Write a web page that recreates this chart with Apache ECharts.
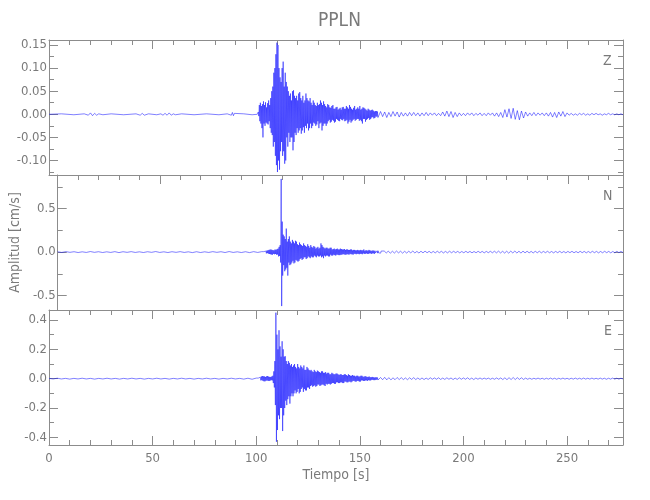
<!DOCTYPE html>
<html><head><meta charset="utf-8">
<script src="https://cdn.jsdelivr.net/npm/echarts@6/dist/echarts.min.js"></script>
<style>html,body{margin:0;padding:0;background:#fff}#c{width:650px;height:500px}</style>
</head><body><div id="c"></div>
<script>
// ---------- data ----------
const titleText = 'PPLN';
const xName = 'Tiempo [s]';
const yName = 'Amplitud [cm/s]';
const compNames = ['Z', 'N', 'E'];
const tMin = 0, tMax = 277;
const xMajor = [0, 50, 100, 150, 200, 250];
const xMinor = [10,20,30,40,60,70,80,90,110,120,130,140,160,170,180,190,210,220,230,240,260,270];

// axis ranges and ticks per component
const zRange = [-0.1314, 0.1608];
const zMajor = [-0.10, -0.05, 0, 0.05, 0.10, 0.15];
const zMinor = [-0.125, -0.075, -0.025, 0.025, 0.075, 0.125];
const nRange = [-0.665, 0.885];
const nMajor = [-0.5, 0, 0.5];
const nMinor = [-0.25, 0.25, 0.75];
const eRange = [-0.452, 0.468];
const eMajor = [-0.4, -0.2, 0, 0.2, 0.4];
const eMinor = [-0.3, -0.1, 0.1, 0.3];

// Z component
const zPreT = [0,6,12,17,19,20,21,22,23,24,26,30,36,42,44,45,46,48,52,54,55,56,57,58,59,60,61,64,70,76,82,86,88,88.5,89,89.5,90,94,98,100.5];
const zPreV = [0,0.001,-0.001,0.001,-0.002,0.003,-0.003,0.002,-0.002,0.001,-0.001,0.001,-0.001,0.001,-0.002,0.002,-0.002,0.001,-0.001,0.001,-0.002,0.002,-0.002,0.003,-0.002,0.001,-0.001,0.001,-0.001,0.001,-0.001,0.001,-0.002,0.004,-0.003,0.002,-0.001,0.001,-0.001,0];
const zMainStart = 101, zMainStep = 0.25;
const zMain = [
0.005,-0.004,0.02,-0.015, 0.025,-0.02,0.018,-0.03, 0.022,-0.05,0.028,-0.02, 0.02,-0.025,0.026,-0.018,
0.015,-0.02,0.024,-0.022, 0.03,-0.015,0.02,-0.03, 0.035,-0.04,0.05,-0.045, 0.06,-0.07,0.09,-0.06,
0.1,-0.09,0.13,-0.11, 0.155,-0.125,0.15,-0.1, 0.1,-0.12,0.08,-0.08, 0.07,-0.06,0.1,-0.09,
0.114,-0.08,0.06,-0.107, 0.09,-0.1,0.07,-0.05, 0.06,-0.07,0.05,-0.04, 0.04,-0.06,0.045,-0.05,
0.03,-0.05,0.05,-0.078, 0.052,-0.06,0.04,-0.04, 0.035,-0.045,0.04,-0.03, 0.03,-0.04,0.045,-0.035,
0.048,-0.03,0.035,-0.042, 0.03,-0.035,0.04,-0.028, 0.025,-0.04,0.03,-0.025, 0.045,-0.03,0.035,-0.02,
0.03,-0.035,0.028,-0.03, 0.035,-0.02,0.025,-0.03, 0.02,-0.025,0.03,-0.018, 0.025,-0.02,0.02,-0.025,
0.018,-0.022,0.025,-0.015, 0.02,-0.03,0.022,-0.02, 0.03,-0.018,0.025,-0.035, 0.02,-0.025,0.028,-0.02,
0.022,-0.02,0.018,-0.025, 0.015,-0.02,0.022,-0.015, 0.02,-0.012,0.015,-0.018, 0.014,-0.016,0.018,-0.012,
0.02,-0.014,0.012,-0.018, 0.012,-0.016,0.015,-0.01, 0.016,-0.012,0.01,-0.014, 0.012,-0.015,0.014,-0.01,
0.01,-0.012,0.015,-0.013, 0.016,-0.01,0.012,-0.015, 0.012,-0.014,0.018,-0.012, 0.015,-0.02,0.012,-0.016,
0.02,-0.012,0.016,-0.018, 0.012,-0.015,0.01,-0.012, 0.014,-0.01,0.018,-0.014, 0.01,-0.012,0.012,-0.01,
0.015,-0.01,0.012,-0.014, 0.018,-0.012,0.01,-0.015, 0.012,-0.02,0.015,-0.01, 0.014,-0.01,0.012,-0.016,
0.01,-0.012,0.008,-0.01, 0.012,-0.008,0.01,-0.012, 0.008,-0.01,0.009,-0.007, 0.01,-0.006,0.008,-0.009,
0.006,-0.008,0.007,-0.005, 0.007,-0.005,0.006,-0.007];
const zPostStart = 160, zPostStep = 1;
const zPost = [
0.006,-0.005,0.005,-0.007,0.004,-0.005,0.006,-0.004,0.005,-0.006,0.004,
-0.004,0.003,-0.004,0.004,-0.003,0.004,-0.003,0.003,-0.004,0.003,-0.003,0.004,-0.003,0.003,-0.002,0.003,-0.003,0.002,-0.003,
0.005,-0.004,0.007,-0.005,0.006,-0.007,0.004,-0.005,
0.003,-0.003,0.002,-0.003,0.003,-0.002,0.003,-0.003,0.002,-0.002,0.003,-0.003,0.002,-0.003,0.003,-0.002,0.003,-0.004,0.003,-0.005,0.004,
-0.007,0.01,-0.006,0.012,-0.009,0.013,-0.011,0.008,-0.012,0.007,-0.008,0.005,
-0.004,0.003,-0.003,0.004,-0.003,0.003,-0.002,0.003,-0.003,0.003,-0.004,0.004,
-0.006,0.004,-0.007,0.005,-0.004,0.006,-0.005,0.003,
-0.002,0.002,-0.002,0.001,-0.002,0.002,-0.001,0.002,-0.002,0.001,-0.002,0.002,-0.001,0.002,-0.001,0.001,-0.002,0.001,-0.001,0.002,-0.001,0.001,-0.001,0.001,-0.001,0.001,-0.001];

// N component
const nPreStart = 0, nPreStep = 2;
const nPre = [
0.003,-0.004,0.005,-0.003,0.004,-0.005,0.003,-0.004,0.006,-0.003,
0.004,-0.005,0.003,-0.004,0.005,-0.006,0.004,-0.003,0.005,-0.004,
0.003,-0.005,0.004,-0.003,0.006,-0.004,0.003,-0.005,0.004,-0.003,
0.005,-0.004,0.003,-0.006,0.004,-0.005,0.003,-0.004,0.005,-0.003,
0.004,-0.005,0.006,-0.004,0.003,-0.005,0.004,-0.006,0.005,-0.004,
0.005];
const nMainStart = 101, nMainStep = 0.25;
const nMain = [
0.005,-0.006,0.008,-0.005, 0.012,-0.015,0.018,-0.012, 0.02,-0.018,0.025,-0.022, 0.028,-0.025,0.03,-0.028,
0.025,-0.03,0.022,-0.02, 0.02,-0.025,0.03,-0.022, 0.025,-0.03,0.035,-0.028, 0.04,-0.05,0.06,-0.045,
0.08,-0.12,0.84,-0.62, 0.35,-0.27,0.2,-0.15, 0.18,-0.22,0.15,-0.2, 0.27,-0.18,0.12,-0.27,
0.15,-0.12,0.18,-0.15, 0.12,-0.14,0.1,-0.12, 0.14,-0.1,0.12,-0.13, 0.1,-0.12,0.13,-0.09,
0.12,-0.1,0.09,-0.11, 0.08,-0.1,0.11,-0.08, 0.09,-0.07,0.08,-0.09, 0.07,-0.08,0.1,-0.06,
0.08,-0.06,0.07,-0.08, 0.06,-0.07,0.09,-0.05, 0.07,-0.06,0.05,-0.07, 0.08,-0.05,0.06,-0.06,
0.05,-0.06,0.07,-0.04, 0.06,-0.05,0.04,-0.06, 0.05,-0.04,0.06,-0.05, 0.04,-0.05,0.05,-0.04,
0.1,-0.06,0.08,-0.05, 0.06,-0.07,0.05,-0.04, 0.04,-0.05,0.05,-0.04, 0.05,-0.04,0.04,-0.05,
0.04,-0.05,0.05,-0.03, 0.05,-0.04,0.03,-0.04, 0.035,-0.03,0.04,-0.035, 0.03,-0.04,0.035,-0.03,
0.04,-0.03,0.03,-0.035, 0.03,-0.035,0.04,-0.03, 0.035,-0.03,0.03,-0.025, 0.03,-0.025,0.035,-0.03,
0.025,-0.03,0.03,-0.025, 0.03,-0.025,0.025,-0.03, 0.025,-0.02,0.03,-0.025, 0.03,-0.025,0.02,-0.03,
0.025,-0.02,0.025,-0.02, 0.02,-0.025,0.02,-0.02, 0.025,-0.02,0.02,-0.025, 0.02,-0.02,0.025,-0.02,
0.02,-0.025,0.02,-0.015, 0.03,-0.02,0.015,-0.02, 0.02,-0.015,0.02,-0.02, 0.015,-0.02,0.025,-0.015,
0.02,-0.015,0.015,-0.02, 0.015,-0.015,0.02,-0.015, 0.015,-0.02,0.015,-0.01, 0.012,-0.015,0.015,-0.012,
0.015,-0.01,0.012,-0.015, 0.01,-0.012,0.012,-0.01];
const nPostStart = 160, nPostStep = 1;
const nPost = [
0.012,-0.01,0.011,-0.013,0.01,-0.011,0.012,-0.009,0.01,-0.012,
0.009,-0.011,0.01,-0.009,0.012,-0.01,0.008,-0.011,0.01,-0.009,
0.011,-0.008,0.009,-0.01,0.008,-0.009,0.01,-0.008,0.009,-0.01,
0.008,-0.009,0.01,-0.008,0.009,-0.007,0.008,-0.009,0.007,-0.008,
0.009,-0.007,0.008,-0.009,0.007,-0.008,0.009,-0.007,0.008,-0.009,
0.008,-0.007,0.009,-0.008,0.01,-0.009,0.011,-0.01,0.009,-0.011,
0.01,-0.012,0.011,-0.01,0.012,-0.011,0.01,-0.012,0.011,-0.009,
0.01,-0.009,0.008,-0.01,0.009,-0.008,0.01,-0.009,0.008,-0.007,
0.009,-0.008,0.007,-0.009,0.008,-0.007,0.009,-0.008,0.007,-0.009,
0.008,-0.007,0.009,-0.008,0.007,-0.008,0.009,-0.007,0.008,-0.009,
0.007,-0.008,0.009,-0.007,0.008,-0.009,0.007,-0.008,0.009,-0.007,
0.008,-0.009,0.007,-0.008,0.009,-0.007,0.008,-0.006];

// E component
const ePreStart = 0, ePreStep = 2;
const ePre = [
0.002,-0.002,0.003,-0.002,0.002,-0.003,0.002,-0.002,0.003,-0.002,
0.002,-0.003,0.002,-0.002,0.003,-0.002,0.002,-0.003,0.002,-0.002,
0.003,-0.002,0.002,-0.003,0.002,-0.002,0.003,-0.002,0.002,-0.003,
0.002,-0.002,0.003,-0.002,0.002,-0.003,0.002,-0.002,0.003,-0.002,
0.002,-0.003,0.002,-0.002,0.003,-0.002,0.002,-0.003,0.003,-0.004,
0.004];
const eMainStart = 101, eMainStep = 0.25;
const eMain = [
0.004,-0.005,0.006,-0.004, 0.01,-0.012,0.015,-0.01, 0.018,-0.015,0.016,-0.018, 0.015,-0.018,0.012,-0.014,
0.016,-0.012,0.018,-0.015, 0.014,-0.016,0.012,-0.013, 0.012,-0.01,0.015,-0.012, 0.02,-0.03,0.05,-0.06,
0.12,-0.18,0.45,-0.43, 0.3,-0.35,0.2,-0.25, 0.33,-0.276,0.22,-0.2, 0.15,-0.2,0.255,-0.357,
0.2,-0.25,0.15,-0.2, 0.153,-0.15,0.12,-0.18, 0.1,-0.14,0.12,-0.12, 0.108,-0.17,0.09,-0.12,
0.1,-0.1,0.08,-0.12, 0.09,-0.1,0.1,-0.08, 0.08,-0.1,0.07,-0.09, 0.1,-0.07,0.08,-0.1,
0.07,-0.09,0.09,-0.07, 0.08,-0.06,0.07,-0.09, 0.09,-0.07,0.06,-0.08, 0.06,-0.08,0.08,-0.06,
0.07,-0.06,0.06,-0.07, 0.055,-0.05,0.06,-0.045, 0.05,-0.055,0.045,-0.05, 0.06,-0.045,0.05,-0.055,
0.045,-0.05,0.055,-0.04, 0.05,-0.04,0.045,-0.05, 0.04,-0.045,0.05,-0.04, 0.05,-0.04,0.04,-0.045,
0.04,-0.05,0.045,-0.035, 0.035,-0.04,0.04,-0.035, 0.04,-0.035,0.03,-0.04, 0.03,-0.035,0.04,-0.03,
0.035,-0.03,0.03,-0.035, 0.03,-0.035,0.035,-0.025, 0.035,-0.025,0.03,-0.03, 0.025,-0.03,0.03,-0.025,
0.03,-0.025,0.025,-0.03, 0.025,-0.03,0.03,-0.02, 0.03,-0.02,0.025,-0.025, 0.02,-0.025,0.03,-0.02,
0.025,-0.02,0.02,-0.025, 0.02,-0.02,0.025,-0.015, 0.02,-0.015,0.02,-0.02, 0.015,-0.02,0.02,-0.015,
0.02,-0.015,0.015,-0.02, 0.015,-0.02,0.02,-0.012, 0.02,-0.012,0.015,-0.015, 0.012,-0.015,0.018,-0.012,
0.015,-0.012,0.012,-0.015, 0.012,-0.01,0.015,-0.012, 0.01,-0.012,0.01,-0.008, 0.012,-0.008,0.01,-0.01,
0.008,-0.01,0.009,-0.008, 0.009,-0.007,0.008,-0.009];
const ePostStart = 160, ePostStep = 1;
const ePost = [
0.008,-0.007,0.009,-0.008,0.007,-0.008,0.006,-0.007,0.008,-0.006,
0.007,-0.006,0.005,-0.007,0.006,-0.005,0.007,-0.006,0.005,-0.006,
0.005,-0.006,0.004,-0.005,0.006,-0.004,0.005,-0.004,0.006,-0.005,
0.004,-0.005,0.006,-0.004,0.005,-0.006,0.004,-0.005,0.006,-0.004,
0.005,-0.004,0.006,-0.005,0.004,-0.006,0.005,-0.004,0.005,-0.004,
0.004,-0.003,0.004,-0.004,0.003,-0.004,0.005,-0.004,0.005,-0.006,
0.006,-0.007,0.007,-0.006,0.008,-0.006,0.007,-0.005,0.006,-0.005,
0.004,-0.004,0.003,-0.004,0.003,-0.003,0.004,-0.003,0.003,-0.004,
0.003,-0.003,0.004,-0.003,0.003,-0.004,0.003,-0.003,0.004,-0.003,
0.003,-0.004,0.003,-0.003,0.004,-0.003,0.003,-0.003,0.004,-0.003,
0.003,-0.003,0.004,-0.003,0.003,-0.003,0.004,-0.003,0.003,-0.004,
0.003,-0.003,0.004,-0.003,0.003,-0.003,0.003,-0.002];

// ---------- build ----------
function pairs(T, V) { return T.map((t, i) => [t, V[i]]); }
function seg(start, step, V) { return V.map((v, i) => [+(start + i * step).toFixed(3), v]); }

const zData = pairs(zPreT, zPreV).concat(seg(zMainStart, zMainStep, zMain), seg(zPostStart, zPostStep, zPost));
const nData = seg(nPreStart, nPreStep, nPre).concat(seg(nMainStart, nMainStep, nMain), seg(nPostStart, nPostStep, nPost));
const eData = seg(ePreStart, ePreStep, ePre).concat(seg(eMainStart, eMainStep, eMain), seg(ePostStart, ePostStep, ePost));

const FONT = "'Liberation Sans Narrow','DejaVu Sans Condensed',Roboto,sans-serif";
const AX = '#8c8c8c';
const TX = '#7a7a7a';
const LINE = '#0000ff';

const panels = [
  { data: zData, range: zRange, major: zMajor, minor: zMinor, dec: 2 },
  { data: nData, range: nRange, major: nMajor, minor: nMinor, dec: 1 },
  { data: eData, range: eRange, major: eMajor, minor: eMinor, dec: 1 }
];
const tops = [40, 175, 310];
const grid = [], xAxis = [], yAxis = [], series = [];
const MAJ = 9, MIN = 5;

panels.forEach((p, i) => {
  grid.push({ left: 49, right: 27, top: tops[i], height: 135 });
  const last = i === 2;
  const xBase = { gridIndex: i, type: 'value', min: tMin, max: tMax, splitLine: { show: false } };
  const xi = xAxis.length;
  xAxis.push(Object.assign({}, xBase, {
    position: 'bottom',
    axisLine: { show: true, onZero: false, lineStyle: { color: AX, width: 1 } },
    axisTick: { show: last, inside: true, length: MAJ, customValues: xMajor, lineStyle: { color: AX } },
    axisLabel: { show: last, customValues: xMajor, margin: 7, color: TX, fontSize: 13, fontFamily: FONT },
    name: last ? xName : '', nameLocation: 'middle', nameGap: 23,
    nameTextStyle: { color: TX, fontSize: 14, fontFamily: FONT }
  }));
  xAxis.push(Object.assign({}, xBase, {
    position: 'bottom',
    axisLine: { show: false, onZero: false },
    axisTick: { show: last, inside: true, length: MIN, customValues: xMinor, lineStyle: { color: AX } },
    axisLabel: { show: false }
  }));
  xAxis.push(Object.assign({}, xBase, {
    position: 'top',
    axisLine: { show: true, onZero: false, lineStyle: { color: AX, width: 1 } },
    axisTick: { show: true, inside: true, length: MAJ, customValues: xMajor, lineStyle: { color: AX } },
    axisLabel: { show: false }
  }));
  xAxis.push(Object.assign({}, xBase, {
    position: 'top',
    axisLine: { show: false, onZero: false },
    axisTick: { show: true, inside: true, length: MIN, customValues: xMinor, lineStyle: { color: AX } },
    axisLabel: { show: false }
  }));

  const yBase = { gridIndex: i, type: 'value', min: p.range[0], max: p.range[1], splitLine: { show: false } };
  const yi = yAxis.length;
  yAxis.push(Object.assign({}, yBase, {
    position: 'left',
    axisLine: { show: true, onZero: false, lineStyle: { color: AX, width: 1 } },
    axisTick: { show: true, inside: true, length: MAJ, customValues: p.major, lineStyle: { color: AX } },
    axisLabel: { show: true, customValues: p.major, margin: 2, color: TX, fontSize: 13, fontFamily: FONT,
      formatter: v => (Math.abs(v) < 1e-9 ? 0 : v).toFixed(p.dec) },
    name: i === 1 ? yName : '', nameLocation: 'middle', nameGap: 32,
    nameTextStyle: { color: TX, fontSize: 14, fontFamily: FONT }
  }));
  yAxis.push(Object.assign({}, yBase, {
    position: 'left',
    axisLine: { show: false, onZero: false },
    axisTick: { show: true, inside: true, length: MIN, customValues: p.minor, lineStyle: { color: AX } },
    axisLabel: { show: false }
  }));
  yAxis.push(Object.assign({}, yBase, {
    position: 'right',
    axisLine: { show: true, onZero: false, lineStyle: { color: AX, width: 1 } },
    axisTick: { show: true, inside: true, length: MAJ, customValues: p.major, lineStyle: { color: AX } },
    axisLabel: { show: false }
  }));
  yAxis.push(Object.assign({}, yBase, {
    position: 'right',
    axisLine: { show: false, onZero: false },
    axisTick: { show: true, inside: true, length: MIN, customValues: p.minor, lineStyle: { color: AX } },
    axisLabel: { show: false }
  }));

  series.push({
    type: 'line', xAxisIndex: xi, yAxisIndex: yi, data: p.data,
    symbol: 'none', showSymbol: false, silent: true, clip: true,
    lineStyle: { color: LINE, width: 0.5 }
  });
});

const graphic = [
  { type: 'text', left: 336 - 18, top: 12, style: { text: titleText, fill: TX, fontSize: 19, fontFamily: FONT } },
  { type: 'text', left: 603, top: 54, style: { text: compNames[0], fill: TX, fontSize: 14, fontFamily: FONT } },
  { type: 'text', left: 603, top: 189, style: { text: compNames[1], fill: TX, fontSize: 14, fontFamily: FONT } },
  { type: 'text', left: 604, top: 324, style: { text: compNames[2], fill: TX, fontSize: 14, fontFamily: FONT } }
];

const chart = echarts.init(document.getElementById('c'), null, { renderer: 'canvas' });
chart.setOption({
  animation: false,
  backgroundColor: '#ffffff',
  grid, xAxis, yAxis, series, graphic
});
</script>
</body></html>
